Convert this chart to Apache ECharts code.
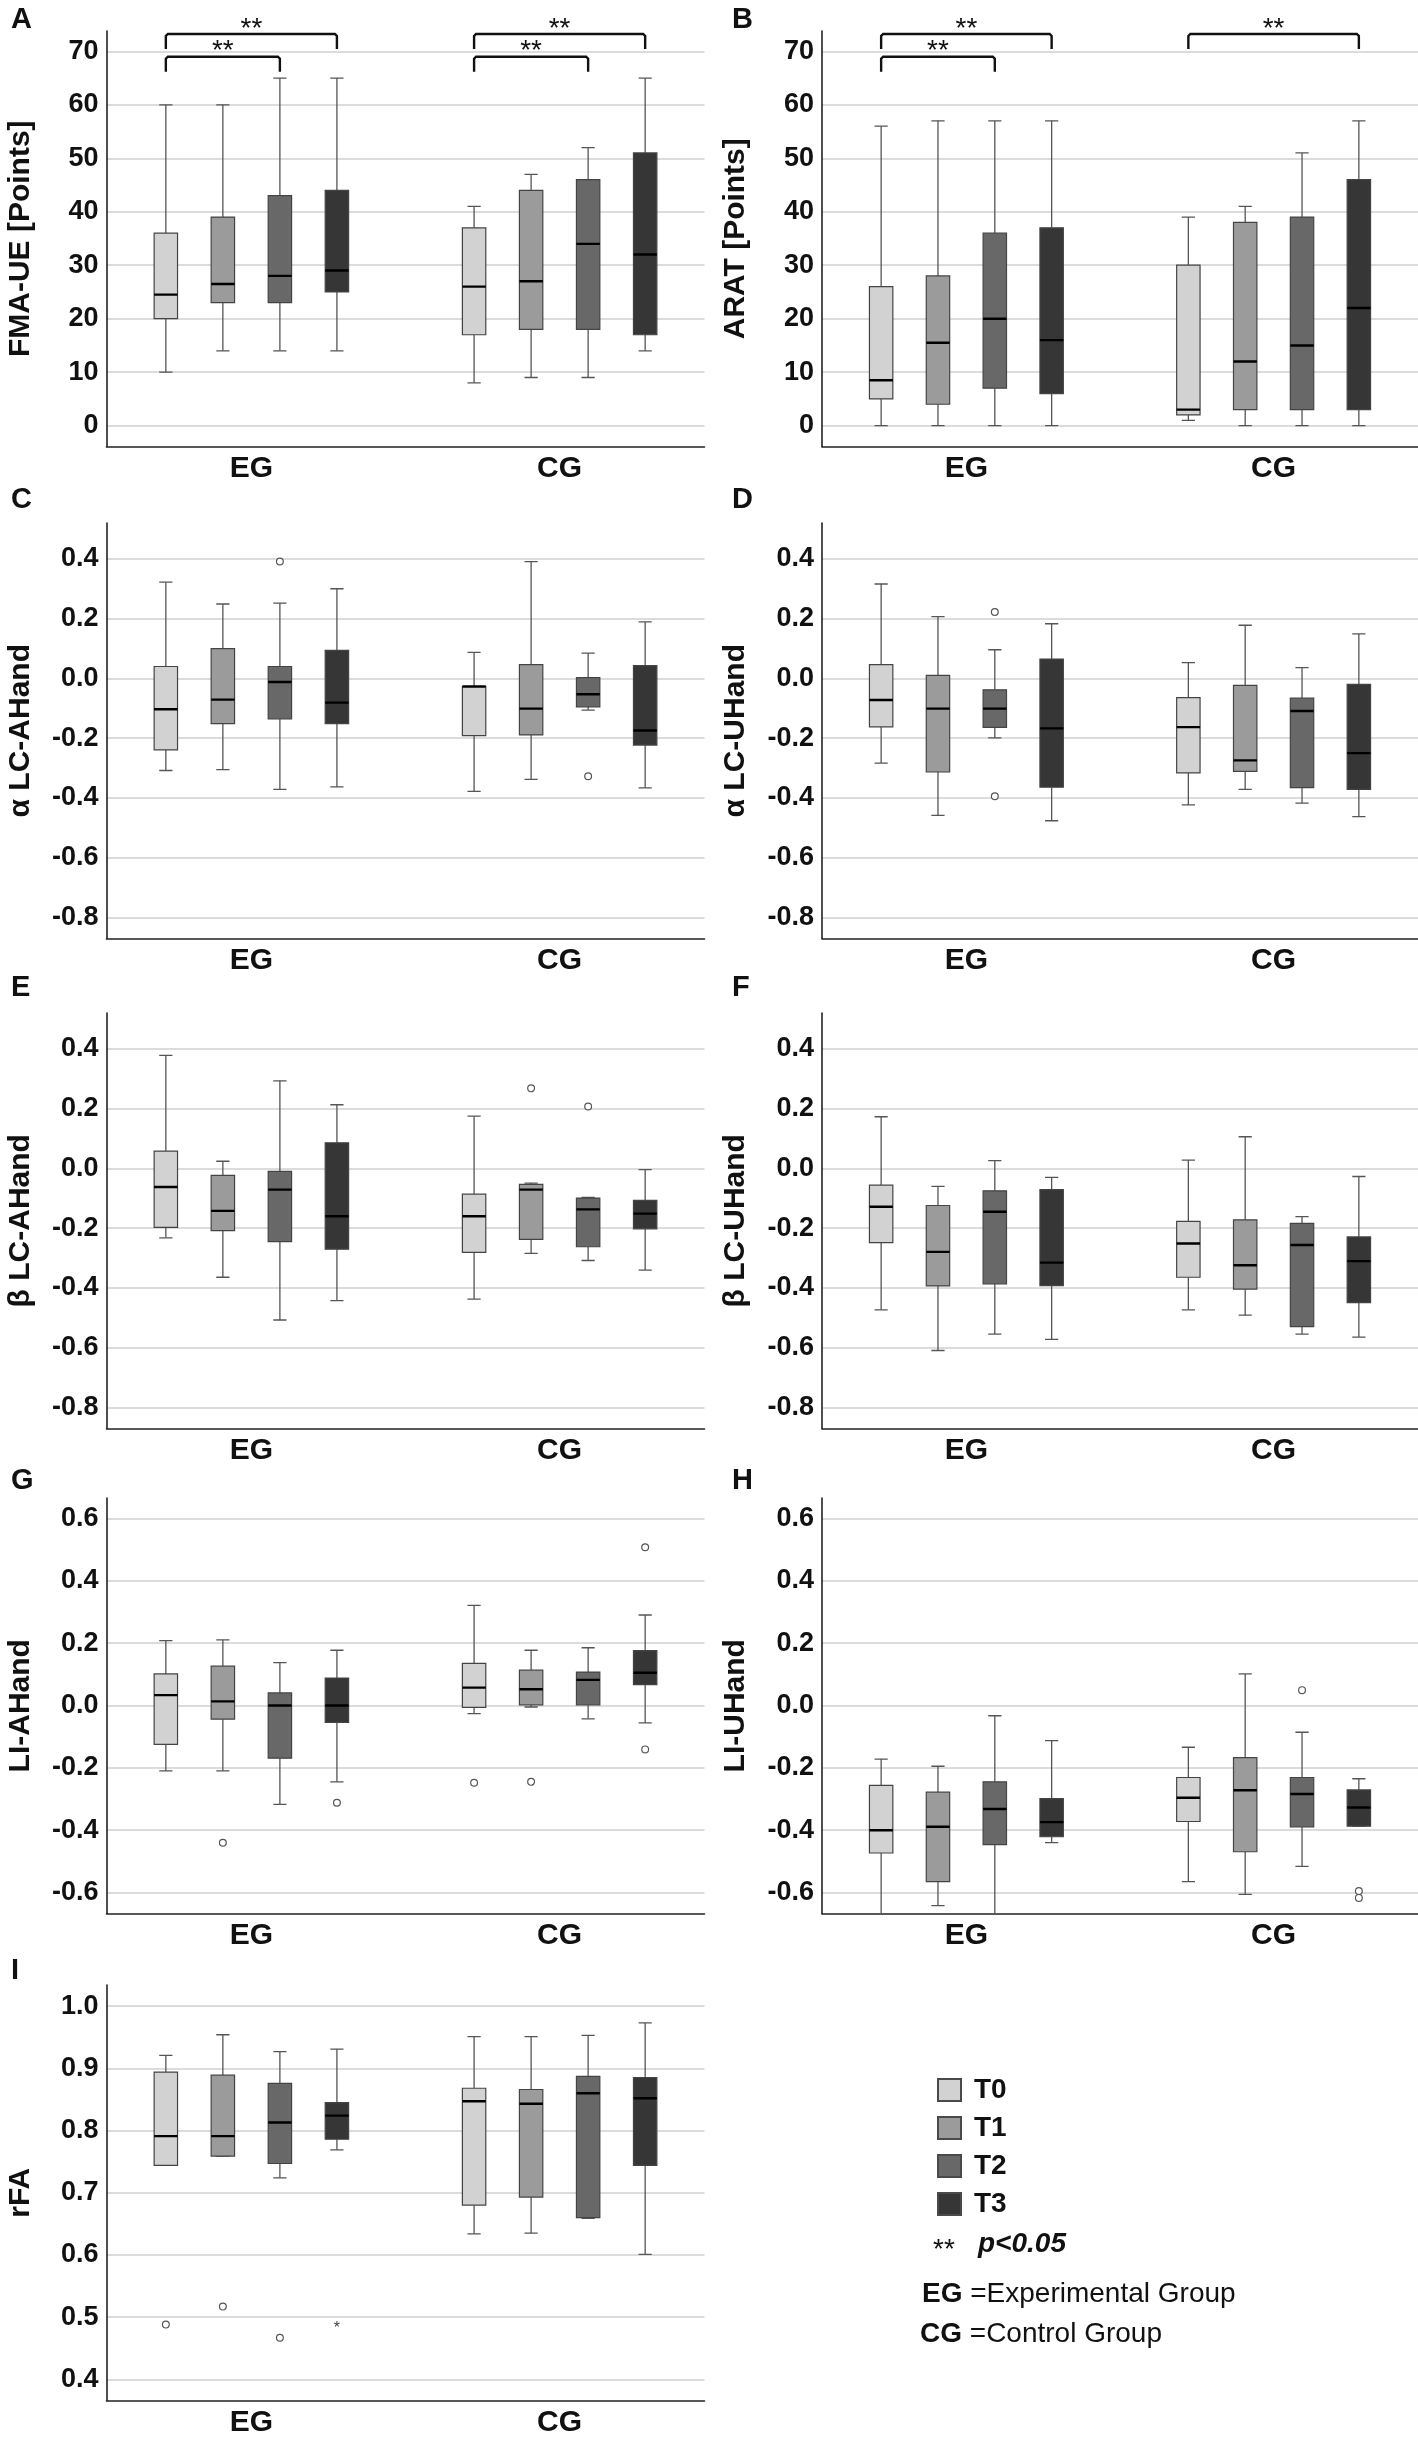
<!DOCTYPE html>
<html>
<head>
<meta charset="UTF-8">
<script src="https://cdn.jsdelivr.net/npm/echarts@6/dist/echarts.min.js"></script>
</head>
<body style="margin:0;background:#fff;">
<div id="chart" style="width:1418px;height:2438px;"></div>
<script>
// groups on the x axis and the four time points
var groups = ['EG', 'CG'];
var times = ['T0', 'T1', 'T2', 'T3'];
var timeColors = ['#d2d2d2', '#9b9b9b', '#686868', '#363636'];

// tick labels of the y axes
var ticksPoints = [0, 10, 20, 30, 40, 50, 60, 70];
var ticksLC = [-0.8, -0.6, -0.4, -0.2, 0, 0.2, 0.4];
var ticksLI = [-0.6, -0.4, -0.2, 0, 0.2, 0.4, 0.6];
var ticksFA = [0.4, 0.5, 0.6, 0.7, 0.8, 0.9, 1.0];

// box stats, one row per time point: [min, Q1, median, Q3, max]
var fmaEG = [[10, 20, 24.5, 36, 60], [14, 23, 26.5, 39, 60], [14, 23, 28, 43, 65], [14, 25, 29, 44, 65]];
var fmaCG = [[8, 17, 26, 37, 41], [9, 18, 27, 44, 47], [9, 18, 34, 46, 52], [14, 17, 32, 51, 65]];
var aratEG = [[0, 5, 8.5, 26, 56], [0, 4, 15.5, 28, 57], [0, 7, 20, 36, 57], [0, 6, 16, 37, 57]];
var aratCG = [[1, 2, 3, 30, 39], [0, 3, 12, 38, 41], [0, 3, 15, 39, 51], [0, 3, 22, 46, 57]];
var aLcAEG = [[-0.308, -0.239, -0.103, 0.04, 0.322], [-0.305, -0.151, -0.071, 0.1, 0.249], [-0.371, -0.135, -0.012, 0.04, 0.252], [-0.363, -0.151, -0.081, 0.094, 0.3]];
var aLcACG = [[-0.378, -0.191, -0.027, -0.027, 0.087], [-0.338, -0.189, -0.101, 0.046, 0.391], [-0.106, -0.095, -0.053, 0.003, 0.085], [-0.366, -0.223, -0.174, 0.043, 0.189]];
var aLcUEG = [[-0.283, -0.162, -0.072, 0.046, 0.316], [-0.458, -0.313, -0.101, 0.01, 0.207], [-0.199, -0.164, -0.101, -0.038, 0.096], [-0.476, -0.364, -0.167, 0.065, 0.183]];
var aLcUCG = [[-0.423, -0.316, -0.163, -0.064, 0.053], [-0.371, -0.311, -0.274, -0.023, 0.178], [-0.417, -0.365, -0.109, -0.066, 0.036], [-0.462, -0.371, -0.25, -0.02, 0.149]];
var bLcAEG = [[-0.232, -0.197, -0.062, 0.058, 0.378], [-0.364, -0.208, -0.142, -0.023, 0.024], [-0.507, -0.245, -0.071, -0.01, 0.293], [-0.442, -0.27, -0.16, 0.086, 0.213]];
var bLcACG = [[-0.437, -0.281, -0.16, -0.086, 0.175], [-0.284, -0.237, -0.071, -0.053, -0.049], [-0.308, -0.262, -0.137, -0.099, -0.097], [-0.34, -0.202, -0.151, -0.107, -0.004]];
var bLcUEG = [[-0.473, -0.248, -0.128, -0.056, 0.173], [-0.609, -0.393, -0.279, -0.124, -0.06], [-0.554, -0.386, -0.145, -0.075, 0.026], [-0.572, -0.392, -0.315, -0.071, -0.03]];
var bLcUCG = [[-0.473, -0.364, -0.251, -0.177, 0.028], [-0.491, -0.404, -0.324, -0.172, 0.106], [-0.554, -0.529, -0.256, -0.184, -0.161], [-0.564, -0.449, -0.31, -0.229, -0.027]];
var liAEG = [[-0.21, -0.125, 0.033, 0.101, 0.208], [-0.21, -0.044, 0.013, 0.126, 0.21], [-0.317, -0.169, 0, 0.04, 0.137], [-0.245, -0.054, 0, 0.088, 0.177]];
var liACG = [[-0.026, -0.006, 0.057, 0.135, 0.321], [-0.005, 0.002, 0.052, 0.113, 0.177], [-0.043, 0.002, 0.082, 0.107, 0.185], [-0.056, 0.067, 0.105, 0.176, 0.29]];
var liUEG = [[-0.72, -0.473, -0.4, -0.256, -0.172], [-0.642, -0.565, -0.389, -0.278, -0.195], [-0.75, -0.446, -0.332, -0.245, -0.033], [-0.44, -0.421, -0.374, -0.299, -0.113]];
var liUCG = [[-0.565, -0.372, -0.296, -0.231, -0.134], [-0.606, -0.469, -0.272, -0.167, 0.101], [-0.516, -0.389, -0.284, -0.231, -0.086], [-0.387, -0.387, -0.327, -0.271, -0.235]];
var rfaEG = [[0.744, 0.744, 0.791, 0.894, 0.921], [0.759, 0.759, 0.791, 0.889, 0.954], [0.724, 0.747, 0.813, 0.876, 0.927], [0.769, 0.786, 0.824, 0.845, 0.931]];
var rfaCG = [[0.634, 0.68, 0.847, 0.868, 0.951], [0.635, 0.693, 0.843, 0.866, 0.951], [0.659, 0.66, 0.86, 0.887, 0.953], [0.601, 0.744, 0.852, 0.885, 0.973]];

// outliers: [group, time point, value, marker]
var aLcAOut = [[0, 2, 0.391, 'o'], [1, 2, -0.327, 'o']];
var aLcUOut = [[0, 2, 0.222, 'o'], [0, 2, -0.394, 'o']];
var bLcAOut = [[1, 1, 0.268, 'o'], [1, 2, 0.207, 'o']];
var liAOut = [[0, 1, -0.44, 'o'], [0, 3, -0.312, 'o'], [1, 0, -0.248, 'o'], [1, 1, -0.245, 'o'], [1, 3, 0.507, 'o'], [1, 3, -0.141, 'o']];
var liUOut = [[1, 2, 0.049, 'o'], [1, 3, -0.595, 'o'], [1, 3, -0.617, 'o']];
var rfaOut = [[0, 0, 0.488, 'o'], [0, 1, 0.517, 'o'], [0, 2, 0.467, 'o'], [0, 3, 0.486, '*']];

// significance brackets: [group, from time, to time, level]
var fmaSig = [[0, 0, 2, 0], [0, 0, 3, 1], [1, 0, 2, 0], [1, 0, 3, 1]];
var aratSig = [[0, 0, 2, 0], [0, 0, 3, 1], [1, 0, 3, 1]];

var panels = [
    { letter: 'A', name: 'FMA-UE [Points]', eg: fmaEG, cg: fmaCG, out: [], sig: fmaSig, min: -3.9, max: 73.8, ticks: ticksPoints, dec: 0 },
    { letter: 'B', name: 'ARAT [Points]', eg: aratEG, cg: aratCG, out: [], sig: aratSig, min: -3.9, max: 73.8, ticks: ticksPoints, dec: 0 },
    { letter: 'C', name: 'α LC-AHand', eg: aLcAEG, cg: aLcACG, out: aLcAOut, sig: [], min: -0.87, max: 0.52, ticks: ticksLC, dec: 1 },
    { letter: 'D', name: 'α LC-UHand', eg: aLcUEG, cg: aLcUCG, out: aLcUOut, sig: [], min: -0.87, max: 0.52, ticks: ticksLC, dec: 1 },
    { letter: 'E', name: 'β LC-AHand', eg: bLcAEG, cg: bLcACG, out: bLcAOut, sig: [], min: -0.87, max: 0.52, ticks: ticksLC, dec: 1 },
    { letter: 'F', name: 'β LC-UHand', eg: bLcUEG, cg: bLcUCG, out: [], sig: [], min: -0.87, max: 0.52, ticks: ticksLC, dec: 1 },
    { letter: 'G', name: 'LI-AHand', eg: liAEG, cg: liACG, out: liAOut, sig: [], min: -0.667, max: 0.665, ticks: ticksLI, dec: 1 },
    { letter: 'H', name: 'LI-UHand', eg: liUEG, cg: liUCG, out: liUOut, sig: [], min: -0.667, max: 0.665, ticks: ticksLI, dec: 1 },
    { letter: 'I', name: 'rFA', eg: rfaEG, cg: rfaCG, out: rfaOut, sig: [], min: 0.366, max: 1.034, ticks: ticksFA, dec: 1 }
];

var FONT = '"Liberation Sans", Arial, sans-serif';
var rowTops = [31, 523, 1013, 1498, 1985];
var gridH = 415.5;
var colLeft = [106.5, 822];
var colWidth = [598, 596];
var letterTops = [5, 485, 973, 1466, 1956];
var OFF = [-0.2775, -0.0925, 0.0925, 0.2775]; // box offsets inside a group, x units
var BOX_HALF = 11.7, CAP_HALF = 6.6;

function boxRenderer(t) {
    return function (params, api) {
        var unit = api.size([1, 0])[0];
        var cx = api.coord([api.value(0), 0])[0] + OFF[t] * unit;
        var y = function (i) { return api.coord([0, api.value(i)])[1]; };
        var wStyle = { stroke: '#555', lineWidth: 1.3 };
        return {
            type: 'group',
            children: [
                { type: 'line', shape: { x1: cx, y1: y(1), x2: cx, y2: y(2) }, style: wStyle },
                { type: 'line', shape: { x1: cx, y1: y(4), x2: cx, y2: y(5) }, style: wStyle },
                { type: 'line', shape: { x1: cx - CAP_HALF, y1: y(1), x2: cx + CAP_HALF, y2: y(1) }, style: wStyle },
                { type: 'line', shape: { x1: cx - CAP_HALF, y1: y(5), x2: cx + CAP_HALF, y2: y(5) }, style: wStyle },
                { type: 'rect', shape: { x: cx - BOX_HALF, y: y(4), width: BOX_HALF * 2, height: y(2) - y(4) },
                  style: { fill: timeColors[t], stroke: '#444', lineWidth: 1.2 } },
                { type: 'line', shape: { x1: cx - BOX_HALF, y1: y(3), x2: cx + BOX_HALF, y2: y(3) },
                  style: { stroke: '#000', lineWidth: 2.4 } }
            ]
        };
    };
}

function outlierRenderer(params, api) {
    var unit = api.size([1, 0])[0];
    var t = api.value(1);
    var p = api.coord([api.value(0), api.value(2)]);
    var cx = p[0] + OFF[t] * unit;
    var mark = api.value(3);
    if (mark === '*') {
        return { type: 'text', style: { x: cx, y: p[1] + 3, text: '*', fontSize: 16, fontFamily: FONT,
            fill: '#444', align: 'center', verticalAlign: 'middle' } };
    }
    return { type: 'circle', shape: { cx: cx, cy: p[1], r: 3.4 }, style: { fill: '#fff', stroke: '#555', lineWidth: 1.2 } };
}

function sigRenderer(params, api) {
    var unit = api.size([1, 0])[0];
    var base = api.coord([api.value(0), 0])[0];
    var x1 = base + OFF[api.value(1)] * unit;
    var x2 = base + OFF[api.value(2)] * unit;
    var top = params.coordSys.y;
    var ly = top + (api.value(3) === 0 ? 25.7 : 3);
    var drop = 15;
    return {
        type: 'group',
        children: [
            { type: 'polyline', shape: { points: [[x1, ly + drop], [x1, ly + 2], [x1 + 2, ly], [x2 - 2, ly], [x2, ly + 2], [x2, ly + drop]] },
              style: { stroke: '#111', lineWidth: 2.4, fill: null } },
            { type: 'text', style: { x: (x1 + x2) / 2, y: ly - 5, text: '**', fontSize: 28, fontFamily: FONT,
              fill: '#111', align: 'center', verticalAlign: 'middle' } }
        ]
    };
}

var grids = [], xAxes = [], yAxes = [], series = [], graphics = [];
panels.forEach(function (p, i) {
    var col = i % 2, row = Math.floor(i / 2);
    grids.push({ left: colLeft[col], top: rowTops[row], width: colWidth[col], height: gridH });
    xAxes.push({
        type: 'value', gridIndex: i, min: -0.47, max: 1.47,
        axisLine: { show: true, onZero: false, lineStyle: { color: '#222', width: 1.6 } },
        axisTick: { show: false },
        splitLine: { show: false },
        axisLabel: { customValues: [0, 1], formatter: function (v) { return groups[Math.round(v)]; },
            fontSize: 30, fontWeight: 'bold', fontFamily: FONT, color: '#111', margin: 7 }
    });
    yAxes.push({
        type: 'value', gridIndex: i, min: p.min, max: p.max,
        name: p.name, nameLocation: 'middle', nameGap: 71, nameRotate: 90,
        nameTextStyle: { fontSize: 30, fontWeight: 'bold', fontFamily: FONT, color: '#111' },
        axisLine: { show: true, onZero: false, lineStyle: { color: '#222', width: 1.6 } },
        axisTick: { show: false, customValues: p.ticks },
        splitLine: { show: true, lineStyle: { color: '#d0d0d0', width: 1.5 } },
        axisLabel: { customValues: p.ticks, formatter: function (v) { return v.toFixed(p.dec); },
            fontSize: 27, fontWeight: 'bold', fontFamily: FONT, color: '#111', margin: 8 }
    });
    times.forEach(function (name, t) {
        series.push({
            type: 'custom', name: name, xAxisIndex: i, yAxisIndex: i, clip: true, z: 3,
            itemStyle: { color: timeColors[t] },
            encode: { x: 0, y: [1, 2, 3, 4, 5] },
            data: [[0].concat(p.eg[t]), [1].concat(p.cg[t])],
            renderItem: boxRenderer(t), silent: true
        });
    });
    if (p.out.length) {
        series.push({
            type: 'custom', name: 'outliers', xAxisIndex: i, yAxisIndex: i, z: 4, silent: true,
            encode: { x: 0, y: 2 }, dimensions: ['group', 'time', 'value', { name: 'mark', type: 'ordinal' }],
            data: p.out, renderItem: outlierRenderer
        });
    }
    if (p.sig.length) {
        series.push({
            type: 'custom', name: 'significance', xAxisIndex: i, yAxisIndex: i, clip: false, z: 5, silent: true,
            encode: { x: 0 }, data: p.sig, renderItem: sigRenderer
        });
    }
    graphics.push({
        type: 'text', left: col === 0 ? 11 : 732, top: letterTops[row],
        style: { text: p.letter, fontSize: 29, fontWeight: 'bold', fontFamily: FONT, fill: '#111' }
    });
});

// key texts below the legend
graphics.push(
    { type: 'text', left: 933, top: 2236, style: { text: '**', fontSize: 28, fontFamily: FONT, fill: '#111' } },
    { type: 'text', left: 978, top: 2230, style: { text: 'p<0.05', fontSize: 28, fontWeight: 'bold', fontStyle: 'italic', fontFamily: FONT, fill: '#111' } },
    { type: 'text', left: 922, top: 2280, style: { text: '{b|EG} =Experimental Group', fontSize: 28, fontFamily: FONT, fill: '#111',
        rich: { b: { fontSize: 28, fontWeight: 'bold', fontFamily: FONT, fill: '#111' } } } },
    { type: 'text', left: 920, top: 2320, style: { text: '{b|CG} =Control Group', fontSize: 28, fontFamily: FONT, fill: '#111',
        rich: { b: { fontSize: 28, fontWeight: 'bold', fontFamily: FONT, fill: '#111' } } } }
);

var chart = echarts.init(document.getElementById('chart'));
chart.setOption({
    backgroundColor: '#fff',
    animation: false,
    grid: grids,
    xAxis: xAxes,
    yAxis: yAxes,
    legend: {
        data: times, orient: 'vertical', left: 937, top: 2076, padding: 0,
        itemWidth: 23, itemHeight: 22, itemGap: 10, icon: 'rect', selectedMode: false,
        itemStyle: { borderColor: '#4a4a4a', borderWidth: 2 },
        textStyle: { fontSize: 28, fontWeight: 'bold', fontFamily: FONT, color: '#111', padding: [0, 0, 0, 8] }
    },
    graphic: graphics,
    series: series
});
window.addEventListener('resize', chart.resize);
</script>
</body>
</html>
